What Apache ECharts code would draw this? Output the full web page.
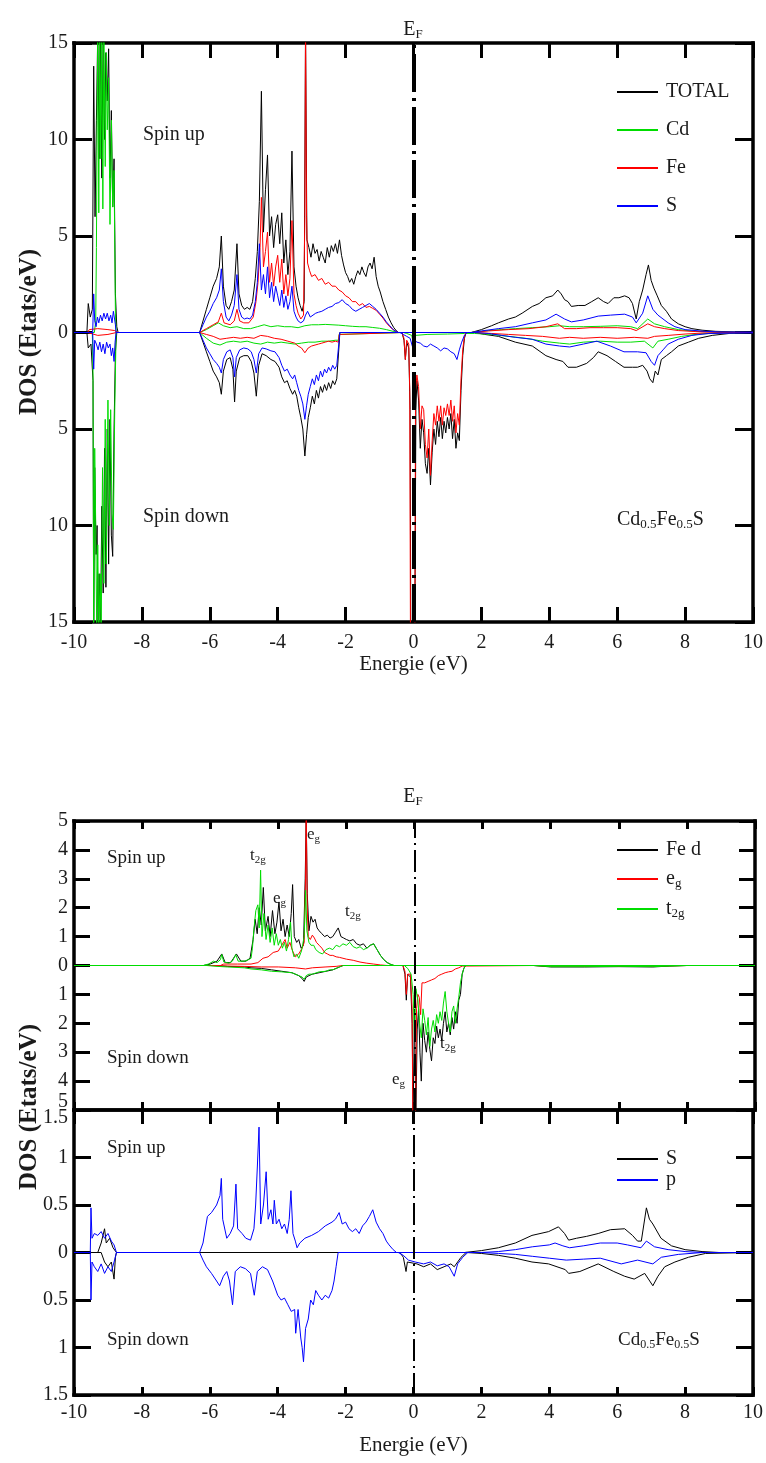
<!DOCTYPE html>
<html>
<head>
<meta charset="utf-8">
<title>DOS Cd0.5Fe0.5S</title>
<script src="https://cdn.jsdelivr.net/npm/echarts@6/dist/echarts.min.js"></script>
<style>
html,body{margin:0;padding:0;background:#fff;}
#chart{width:766px;height:1463px;}
</style>
</head>
<body>
<div id="chart"></div>
<script>
// ---------- data: energy (eV) vs DOS (states/eV); spin down stored as negative ----------
const fermiLevel = 0;
const energyTicks = [-10, 10, 2];          // min, max, step of the energy axis
const dosRangeTotal = [-15, 15, 5];
const dosRangeFe = [-5, 5, 1];
const dosRangeS = [-1.5, 1.5, 0.5];

// Panel 1: total and atom-projected DOS
const totalUp = [[-10,0],[-9.62,0],[-9.58,1.5],[-9.52,0.8],[-9.46,1.2],[-9.42,13.8],[-9.38,6],[-9.34,11],[-9.3,15.6],[-9.26,9],[-9.22,15.6],[-9.18,8],[-9.14,15.6],[-9.1,10],[-9.06,14.5],[-9.02,12],[-8.98,14.7],[-8.94,8],[-8.9,11.5],[-8.86,6.5],[-8.82,9],[-8.78,2],[-8.74,0.3],[-8.7,0],
[-6.3,0],[-6.2,0.6],[-6.1,1.2],[-6.0,1.8],[-5.9,2.4],[-5.8,2.8],[-5.72,3.4],[-5.66,5.0],[-5.6,2.4],[-5.52,1.4],[-5.44,1.2],[-5.36,1.6],[-5.28,2.2],[-5.2,4.6],[-5.14,2.0],[-5.06,1.4],[-4.98,1.2],[-4.9,1.3],[-4.82,1.2],[-4.74,1.6],[-4.66,2.8],[-4.6,4.2],[-4.54,6.8],[-4.48,12.5],[-4.42,5.2],[-4.36,7.4],[-4.3,9.2],[-4.24,5.0],[-4.18,6.0],[-4.12,4.4],[-4.06,5.6],[-4.0,6.1],[-3.94,4.6],[-3.88,6.2],[-3.82,3.6],[-3.76,4.8],[-3.7,3.0],[-3.64,4.2],[-3.58,9.4],[-3.52,3.4],[-3.46,2.4],[-3.4,1.8],[-3.34,1.4],[-3.28,1.1],[-3.22,1.6],[-3.18,15.6],[-3.14,4.8],[-3.08,4.4],[-3.02,3.9],[-2.96,4.6],[-2.9,4.1],[-2.84,4.3],[-2.78,3.7],[-2.72,4.2],[-2.66,3.9],[-2.6,3.6],[-2.54,4.4],[-2.48,3.9],[-2.42,4.5],[-2.36,4.2],[-2.3,4.6],[-2.24,4.1],[-2.18,4.8],[-2.12,4.0],[-2.06,3.5],[-2.0,3.1],[-1.94,2.9],[-1.88,2.6],[-1.82,2.8],[-1.76,2.5],[-1.7,2.9],[-1.64,3.2],[-1.58,3.0],[-1.52,3.4],[-1.46,3.1],[-1.4,2.9],[-1.34,3.4],[-1.28,3.6],[-1.22,3.3],[-1.16,3.9],[-1.1,2.9],[-1.04,2.4],[-0.98,2.1],[-0.9,1.6],[-0.82,1.2],[-0.74,0.8],[-0.66,0.5],[-0.58,0.25],[-0.5,0.08],[-0.44,0],
[1.7,0],[2.0,0.15],[2.3,0.35],[2.5,0.5],[2.8,0.7],[3.0,0.8],[3.2,1.0],[3.5,1.35],[3.7,1.5],[3.9,1.8],[4.1,1.9],[4.25,2.2],[4.35,2.0],[4.45,1.7],[4.55,1.6],[4.65,1.35],[4.85,1.4],[5.05,1.4],[5.25,1.6],[5.44,1.8],[5.6,1.6],[5.73,1.5],[5.9,1.8],[6.05,1.8],[6.22,1.9],[6.35,1.8],[6.45,1.5],[6.56,0.7],[6.65,1.6],[6.75,2.2],[6.85,3.0],[6.92,3.5],[7.0,2.7],[7.08,2.3],[7.18,1.9],[7.3,1.4],[7.45,1.1],[7.6,0.7],[7.8,0.45],[8.0,0.3],[8.2,0.2],[8.5,0.12],[8.9,0.06],[9.5,0.03],[10,0.02]];
const totalDown = [[-10,0],[-9.62,0],[-9.58,-0.8],[-9.5,-0.6],[-9.44,-2.5],[-9.42,-15.6],[-9.39,-7],[-9.35,-11.5],[-9.32,-10],[-9.29,-15.6],[-9.26,-12.5],[-9.22,-15.6],[-9.18,-9],[-9.14,-13.5],[-9.1,-6],[-9.06,-13.2],[-9.02,-5],[-8.98,-12],[-8.94,-4.5],[-8.9,-10.5],[-8.86,-11.6],[-8.82,-5],[-8.78,-1],[-8.74,0],
[-6.3,0],[-6.2,-0.5],[-6.1,-1.0],[-6.0,-1.5],[-5.9,-2.0],[-5.8,-2.3],[-5.72,-2.6],[-5.66,-3.2],[-5.6,-2.0],[-5.5,-1.4],[-5.4,-1.3],[-5.32,-1.9],[-5.27,-3.6],[-5.22,-2.0],[-5.12,-1.3],[-5.0,-1.2],[-4.88,-1.2],[-4.78,-1.5],[-4.7,-2.1],[-4.63,-3.3],[-4.56,-1.7],[-4.46,-1.1],[-4.34,-1.2],[-4.2,-1.4],[-4.08,-1.5],[-3.96,-1.8],[-3.88,-2.3],[-3.8,-2.6],[-3.72,-2.5],[-3.64,-2.9],[-3.56,-3.2],[-3.5,-3.0],[-3.44,-3.3],[-3.38,-3.9],[-3.32,-4.4],[-3.26,-5.0],[-3.2,-6.4],[-3.15,-5.3],[-3.1,-4.4],[-3.04,-3.9],[-2.98,-3.3],[-2.92,-3.7],[-2.86,-3.0],[-2.8,-3.4],[-2.74,-2.8],[-2.68,-3.1],[-2.62,-2.7],[-2.56,-3.0],[-2.5,-2.6],[-2.44,-2.9],[-2.38,-2.5],[-2.32,-2.7],[-2.26,-2.4],[-2.21,-2.5],[-2.19,-0.6],[-2.17,0],
[-0.34,0],[-0.28,-0.4],[-0.24,-1.4],[-0.2,-0.5],[-0.14,-0.8],[-0.1,-4],[-0.08,-15.6],[0.04,-15.6],[0.07,-4],[0.1,-2.5],[0.15,-3.5],[0.2,-6.0],[0.25,-4.5],[0.3,-5.2],[0.35,-6.8],[0.4,-7.3],[0.45,-6.0],[0.5,-7.9],[0.55,-6.2],[0.6,-5.0],[0.65,-5.8],[0.7,-4.6],[0.75,-5.4],[0.8,-4.4],[0.85,-5.5],[0.9,-4.6],[0.95,-5.2],[1.0,-4.4],[1.05,-5.0],[1.1,-4.2],[1.15,-5.5],[1.2,-4.5],[1.25,-6.0],[1.3,-5.2],[1.35,-5.6],[1.4,-3.0],[1.45,-1.2],[1.5,-0.3],[1.55,0],
[1.8,0],[2.1,-0.1],[2.5,-0.2],[3.0,-0.5],[3.5,-0.7],[3.9,-1.2],[4.2,-1.4],[4.4,-1.5],[4.55,-1.8],[4.8,-1.8],[5.1,-1.6],[5.3,-1.3],[5.44,-1.0],[5.7,-1.2],[5.95,-1.5],[6.2,-1.8],[6.45,-1.8],[6.6,-1.8],[6.75,-1.7],[6.88,-2.0],[6.96,-2.4],[7.05,-2.6],[7.12,-2.0],[7.2,-2.2],[7.3,-1.4],[7.45,-1.2],[7.6,-1.0],[7.8,-0.7],[8.1,-0.5],[8.4,-0.3],[8.8,-0.15],[9.3,-0.05],[10,-0.02]];

const cdUp = [[-10,0],[-9.4,0],[-9.36,0.6],[-9.34,4.4],[-9.32,10.6],[-9.3,15.6],[-9.27,6.2],[-9.24,15.6],[-9.21,9],[-9.18,15.6],[-9.15,6.4],[-9.12,15.6],[-9.08,8.6],[-9.05,14.5],[-9.02,10.5],[-8.98,13.2],[-8.94,5.6],[-8.9,11.0],[-8.86,6.5],[-8.82,8.4],[-8.78,1.0],[-8.76,0],
[-6.3,0],[-6.1,0.15],[-5.9,0.35],[-5.75,0.5],[-5.6,0.35],[-5.4,0.25],[-5.2,0.3],[-5.0,0.2],[-4.8,0.2],[-4.6,0.3],[-4.4,0.4],[-4.2,0.3],[-4.0,0.35],[-3.8,0.3],[-3.6,0.3],[-3.4,0.25],[-3.2,0.35],[-3.0,0.4],[-2.8,0.4],[-2.6,0.42],[-2.4,0.4],[-2.2,0.38],[-2.0,0.35],[-1.8,0.32],[-1.6,0.3],[-1.4,0.3],[-1.2,0.26],[-1.0,0.22],[-0.8,0.15],[-0.6,0.06],[-0.44,0],
[1.7,0],[2.2,0.1],[2.6,0.15],[3.0,0.2],[3.5,0.25],[4.0,0.3],[4.3,0.35],[4.6,0.3],[5.0,0.3],[5.5,0.32],[6.0,0.35],[6.4,0.3],[6.6,0.2],[6.9,0.7],[7.1,0.45],[7.4,0.3],[7.8,0.15],[8.3,0.06],[9,0.02],[10,0]];
const cdDown = [[-10,0],[-9.46,0],[-9.44,-2],[-9.42,-15.6],[-9.39,-6],[-9.36,-10],[-9.33,-15.6],[-9.3,-11],[-9.27,-15.6],[-9.23,-12.5],[-9.2,-15.6],[-9.16,-7],[-9.12,-13],[-9.08,-4.5],[-9.05,-12],[-9.0,-3.5],[-8.96,-10],[-8.92,-4],[-8.88,-9.4],[-8.84,-10.2],[-8.8,-4],[-8.76,0],
[-6.3,0],[-6.1,-0.3],[-5.9,-0.55],[-5.7,-0.65],[-5.5,-0.5],[-5.3,-0.45],[-5.1,-0.5],[-4.9,-0.45],[-4.7,-0.55],[-4.5,-0.6],[-4.3,-0.5],[-4.1,-0.55],[-3.9,-0.5],[-3.7,-0.55],[-3.5,-0.6],[-3.3,-0.55],[-3.1,-0.5],[-2.9,-0.5],[-2.7,-0.45],[-2.5,-0.45],[-2.3,-0.4],[-2.21,-0.4],[-2.19,-0.1],[-2.17,0],
[-0.3,0],[-0.2,-0.05],[-0.05,-0.15],[0.0,-0.6],[0.05,-0.15],[0.4,-0.1],[1.0,-0.08],[1.5,-0.05],[1.8,-0.05],[2.3,-0.1],[2.8,-0.2],[3.3,-0.3],[3.8,-0.45],[4.3,-0.55],[4.6,-0.6],[5.0,-0.5],[5.5,-0.45],[6.0,-0.5],[6.4,-0.5],[6.8,-0.45],[7.05,-0.8],[7.2,-0.45],[7.5,-0.35],[7.9,-0.2],[8.4,-0.08],[9,-0.03],[10,0]];

const feUp = [[-10,0],[-9.6,0],[-9.55,0.15],[-9.3,0.2],[-9.0,0.15],[-8.8,0.1],[-8.7,0],
[-6.3,0],[-6.1,0.2],[-5.9,0.4],[-5.75,0.55],[-5.66,1.0],[-5.58,0.5],[-5.4,0.4],[-5.28,0.6],[-5.2,1.2],[-5.12,0.6],[-5.0,0.5],[-4.85,0.5],[-4.72,0.8],[-4.64,1.6],[-4.58,2.6],[-4.52,4.4],[-4.48,7.0],[-4.42,3.4],[-4.36,4.2],[-4.3,5.2],[-4.24,2.6],[-4.18,3.6],[-4.12,2.4],[-4.06,3.4],[-4.0,4.0],[-3.94,2.6],[-3.88,3.8],[-3.82,2.0],[-3.76,3.0],[-3.7,1.9],[-3.64,2.8],[-3.58,5.8],[-3.52,2.0],[-3.46,1.4],[-3.4,1.0],[-3.32,0.7],[-3.24,0.9],[-3.2,6],[-3.18,16],[-3.15,6],[-3.12,3.6],[-3.06,3.2],[-3.0,2.9],[-2.9,3.0],[-2.8,2.7],[-2.7,2.8],[-2.6,2.5],[-2.5,2.6],[-2.4,2.4],[-2.3,2.4],[-2.2,2.2],[-2.1,2.1],[-2.0,1.9],[-1.9,1.8],[-1.8,1.6],[-1.7,1.6],[-1.6,1.4],[-1.5,1.5],[-1.4,1.3],[-1.3,1.35],[-1.2,1.25],[-1.1,1.15],[-1.0,0.95],[-0.9,0.75],[-0.8,0.5],[-0.7,0.3],[-0.6,0.15],[-0.5,0.04],[-0.44,0],
[1.7,0],[2.2,0.08],[2.8,0.15],[3.4,0.2],[3.9,0.3],[4.25,0.45],[4.45,0.2],[4.8,0.2],[5.2,0.25],[5.6,0.25],[6.0,0.25],[6.4,0.2],[6.56,0.1],[6.9,0.45],[7.1,0.3],[7.4,0.2],[7.8,0.1],[8.3,0.05],[9,0.02],[10,0]];
const feDown = [[-10,0],[-9.6,0],[-9.55,-0.1],[-9.3,-0.15],[-9.0,-0.1],[-8.75,0],
[-6.3,0],[-6.1,-0.1],[-5.9,-0.2],[-5.7,-0.35],[-5.5,-0.3],[-5.3,-0.25],[-5.1,-0.3],[-4.9,-0.25],[-4.7,-0.3],[-4.5,-0.15],[-4.3,-0.2],[-4.1,-0.3],[-3.9,-0.35],[-3.7,-0.45],[-3.5,-0.55],[-3.4,-0.7],[-3.3,-0.8],[-3.2,-1.05],[-3.1,-0.8],[-3.0,-0.7],[-2.9,-0.65],[-2.8,-0.6],[-2.7,-0.55],[-2.6,-0.5],[-2.5,-0.45],[-2.4,-0.5],[-2.3,-0.45],[-2.21,-0.5],[-2.19,-0.1],[-2.17,0],
[-0.34,0],[-0.28,-0.3],[-0.24,-1.4],[-0.2,-0.4],[-0.14,-0.6],[-0.11,-3],[-0.09,-15.6],[0.04,-15.6],[0.06,-3],[0.1,-2.2],[0.15,-2.8],[0.2,-5.0],[0.25,-3.8],[0.3,-4.0],[0.35,-5.8],[0.4,-6.5],[0.45,-5.0],[0.5,-7.4],[0.55,-5.6],[0.6,-4.2],[0.65,-4.8],[0.7,-3.8],[0.75,-4.6],[0.8,-3.8],[0.85,-4.8],[0.9,-3.9],[0.95,-4.3],[1.0,-3.7],[1.05,-4.3],[1.1,-3.5],[1.15,-4.6],[1.2,-3.8],[1.25,-5.2],[1.3,-4.2],[1.35,-4.8],[1.4,-2.4],[1.45,-0.9],[1.5,-0.2],[1.55,0],
[1.8,0],[2.3,-0.05],[2.8,-0.1],[3.3,-0.15],[3.8,-0.2],[4.3,-0.3],[4.6,-0.25],[5.0,-0.3],[5.5,-0.25],[6.0,-0.3],[6.5,-0.25],[6.9,-0.3],[7.1,-0.2],[7.5,-0.15],[8.0,-0.08],[8.5,-0.03],[10,0]];

const sUp = [[-10,0],[-9.45,0],[-9.42,2.0],[-9.39,0.6],[-9.35,0.3],[-9.31,0.8],[-9.27,0.5],[-9.22,0.9],[-9.17,0.6],[-9.12,1.0],[-9.07,0.7],[-9.02,1.0],[-8.97,0.6],[-8.92,0.9],[-8.88,0.5],[-8.84,1.1],[-8.8,1.0],[-8.78,0.4],[-8.76,0],
[-6.3,0],[-6.2,0.4],[-6.1,0.8],[-6.0,1.1],[-5.9,1.5],[-5.8,1.8],[-5.72,2.2],[-5.66,3.3],[-5.6,1.6],[-5.52,0.8],[-5.44,0.6],[-5.36,0.9],[-5.28,1.4],[-5.2,3.0],[-5.14,1.2],[-5.06,0.8],[-4.98,0.7],[-4.9,0.75],[-4.82,0.7],[-4.74,0.9],[-4.66,1.6],[-4.6,2.6],[-4.54,4.6],[-4.48,2.2],[-4.42,3.0],[-4.36,2.0],[-4.3,3.4],[-4.24,1.8],[-4.18,2.6],[-4.12,1.6],[-4.06,2.4],[-4.0,1.9],[-3.94,1.4],[-3.88,2.2],[-3.82,1.3],[-3.76,1.9],[-3.7,1.2],[-3.64,1.6],[-3.58,2.4],[-3.52,1.1],[-3.46,0.8],[-3.4,0.6],[-3.32,0.5],[-3.24,0.6],[-3.18,0.9],[-3.12,1.1],[-3.04,0.8],[-2.96,0.9],[-2.88,1.0],[-2.8,1.05],[-2.7,1.1],[-2.6,1.2],[-2.5,1.3],[-2.4,1.35],[-2.3,1.5],[-2.2,1.55],[-2.1,1.7],[-2.0,1.5],[-1.9,1.4],[-1.8,1.2],[-1.7,1.1],[-1.6,1.2],[-1.5,1.3],[-1.4,1.4],[-1.3,1.5],[-1.2,1.35],[-1.1,1.2],[-1.0,1.0],[-0.9,0.8],[-0.8,0.55],[-0.7,0.35],[-0.6,0.15],[-0.5,0.04],[-0.44,0],
[1.7,0],[2.0,0.08],[2.5,0.2],[3.0,0.3],[3.5,0.5],[3.9,0.65],[4.2,0.95],[4.45,0.7],[4.65,0.55],[5.0,0.65],[5.44,0.85],[5.8,0.9],[6.22,0.95],[6.45,0.8],[6.56,0.5],[6.75,1.0],[6.9,1.9],[7.05,1.2],[7.2,0.9],[7.5,0.5],[7.7,0.3],[8.0,0.15],[8.5,0.07],[9,0.03],[10,0.02]];
const sDown = [[-10,0],[-9.45,0],[-9.42,-1.9],[-9.39,-0.4],[-9.34,-0.6],[-9.29,-0.9],[-9.24,-0.5],[-9.19,-1.0],[-9.14,-0.6],[-9.09,-1.1],[-9.04,-0.5],[-8.99,-0.8],[-8.94,-0.6],[-8.9,-1.2],[-8.86,-0.8],[-8.82,-1.5],[-8.79,-0.5],[-8.76,0],
[-6.3,0],[-6.2,-0.4],[-6.1,-0.8],[-6.0,-1.1],[-5.9,-1.4],[-5.8,-1.6],[-5.72,-1.8],[-5.66,-2.1],[-5.6,-1.4],[-5.5,-1.0],[-5.4,-0.9],[-5.32,-1.3],[-5.27,-2.3],[-5.22,-1.3],[-5.12,-0.9],[-5.0,-0.8],[-4.88,-0.85],[-4.78,-1.0],[-4.7,-1.4],[-4.63,-2.1],[-4.56,-1.1],[-4.46,-0.8],[-4.34,-0.85],[-4.2,-0.95],[-4.08,-1.0],[-3.96,-1.3],[-3.88,-1.7],[-3.8,-2.0],[-3.72,-1.9],[-3.64,-2.2],[-3.56,-2.4],[-3.5,-2.2],[-3.44,-2.6],[-3.38,-3.0],[-3.32,-3.3],[-3.26,-3.7],[-3.2,-4.5],[-3.15,-3.8],[-3.1,-3.2],[-3.04,-2.8],[-2.98,-2.4],[-2.92,-2.7],[-2.86,-2.2],[-2.8,-2.5],[-2.74,-2.0],[-2.68,-2.3],[-2.62,-1.9],[-2.56,-2.1],[-2.5,-1.8],[-2.44,-2.0],[-2.38,-1.7],[-2.32,-1.9],[-2.26,-1.7],[-2.21,-1.8],[-2.19,-0.4],[-2.17,0],
[-0.4,0],[-0.3,-0.1],[-0.2,-0.2],[-0.1,-0.3],[-0.02,-0.8],[0.04,-0.4],[0.1,-0.5],[0.2,-0.55],[0.3,-0.7],[0.4,-0.75],[0.5,-0.6],[0.6,-0.7],[0.7,-0.8],[0.8,-0.95],[0.9,-0.8],[1.0,-0.85],[1.1,-1.0],[1.2,-1.1],[1.28,-1.4],[1.35,-0.9],[1.42,-0.5],[1.5,-0.15],[1.58,0],
[1.8,0],[2.2,-0.05],[2.6,-0.15],[3.0,-0.25],[3.5,-0.35],[3.9,-0.6],[4.3,-0.7],[4.6,-0.75],[5.0,-0.6],[5.4,-0.45],[5.8,-0.7],[6.2,-1.0],[6.6,-1.0],[6.85,-1.05],[7.0,-1.5],[7.1,-1.7],[7.2,-1.2],[7.35,-0.9],[7.5,-0.6],[7.8,-0.35],[8.2,-0.15],[8.7,-0.05],[10,-0.02]];

// Panel 2: Fe d and its crystal-field components
const feDUp = [[-10,0],[-6.2,0],[-6.0,0.05],[-5.8,0.15],[-5.66,0.4],[-5.56,0.1],[-5.4,0.1],[-5.23,0.4],[-5.1,0.15],[-4.95,0.15],[-4.83,0.25],[-4.74,0.9],[-4.68,1.6],[-4.62,1.1],[-4.56,2.0],[-4.5,1.4],[-4.44,2.7],[-4.38,1.2],[-4.3,1.7],[-4.24,1.0],[-4.17,1.9],[-4.1,1.1],[-4.04,1.5],[-3.98,2.2],[-3.92,1.2],[-3.86,1.6],[-3.8,1.0],[-3.74,1.4],[-3.68,1.0],[-3.62,1.8],[-3.58,2.8],[-3.53,1.0],[-3.46,0.8],[-3.4,0.9],[-3.33,0.6],[-3.26,0.7],[-3.21,3.0],[-3.18,5.2],[-3.15,2.5],[-3.1,1.2],[-3.04,1.7],[-2.98,1.5],[-2.92,1.6],[-2.86,1.3],[-2.8,1.2],[-2.72,1.1],[-2.64,1.0],[-2.56,1.05],[-2.48,0.95],[-2.4,1.0],[-2.32,1.15],[-2.24,1.3],[-2.16,1.0],[-2.08,0.95],[-2.0,0.9],[-1.9,0.85],[-1.8,0.9],[-1.7,0.75],[-1.6,0.7],[-1.5,0.75],[-1.4,0.6],[-1.3,0.7],[-1.2,0.75],[-1.1,0.55],[-1.0,0.35],[-0.9,0.2],[-0.8,0.1],[-0.7,0.04],[-0.6,0],[10,0]];
const feDDown = [[-10,0],[-5.8,0],[-5.5,-0.03],[-5.0,-0.05],[-4.8,-0.08],[-4.5,-0.1],[-4.2,-0.15],[-3.9,-0.2],[-3.6,-0.25],[-3.4,-0.35],[-3.3,-0.45],[-3.24,-0.55],[-3.18,-0.4],[-3.1,-0.35],[-3.0,-0.3],[-2.8,-0.25],[-2.6,-0.2],[-2.4,-0.15],[-2.3,-0.1],[-2.2,-0.05],[-2.1,0],
[-0.34,0],[-0.28,-0.3],[-0.24,-1.2],[-0.2,-0.3],[-0.12,-0.4],[-0.07,-2.0],[-0.04,-5.2],[0.0,-1.5],[0.04,-5.2],[0.08,-2.2],[0.12,-1.5],[0.16,-3.0],[0.2,-4.0],[0.25,-2.0],[0.3,-2.6],[0.35,-3.0],[0.4,-2.3],[0.45,-2.9],[0.5,-3.3],[0.55,-2.5],[0.6,-2.7],[0.65,-2.1],[0.7,-2.5],[0.75,-2.2],[0.8,-2.6],[0.85,-2.0],[0.9,-1.6],[0.95,-2.3],[1.0,-2.0],[1.05,-2.4],[1.1,-1.8],[1.15,-2.2],[1.2,-1.6],[1.25,-2.0],[1.3,-1.2],[1.35,-1.0],[1.4,-0.3],[1.45,-0.1],[1.5,0],
[3.5,0],[4.0,-0.05],[5.0,-0.05],[6.0,-0.04],[7.0,-0.05],[7.5,-0.02],[8,0],[10,0]];
const egUp = [[-10,0],[-5.7,0],[-5.6,0.05],[-5.2,0.05],[-4.8,0.05],[-4.6,0.1],[-4.45,0.25],[-4.3,0.3],[-4.15,0.45],[-4.0,0.5],[-3.9,0.7],[-3.8,0.9],[-3.74,0.6],[-3.66,0.8],[-3.58,0.5],[-3.5,0.3],[-3.4,0.4],[-3.3,0.6],[-3.24,0.8],[-3.2,3],[-3.18,5.3],[-3.15,2],[-3.12,1.0],[-3.06,0.9],[-3.0,1.05],[-2.94,0.95],[-2.88,0.8],[-2.8,0.7],[-2.72,0.6],[-2.64,0.45],[-2.56,0.4],[-2.48,0.35],[-2.4,0.35],[-2.3,0.3],[-2.2,0.28],[-2.1,0.25],[-2.0,0.22],[-1.8,0.18],[-1.6,0.12],[-1.4,0.08],[-1.2,0.05],[-1.0,0.02],[-0.8,0],[10,0]];
const egDown = [[-10,0],[-6,0],[-5.5,-0.02],[-5.0,-0.03],[-4.5,-0.05],[-4.0,-0.05],[-3.5,-0.08],[-3.2,-0.12],[-3.0,-0.08],[-2.6,-0.05],[-2.3,-0.03],[-2.1,0],
[-0.34,0],[-0.28,-0.2],[-0.24,-1.0],[-0.2,-0.3],[-0.12,-0.3],[-0.07,-1.5],[-0.05,-5.2],[0.03,-5.2],[0.06,-1.5],[0.1,-1.0],[0.14,-1.1],[0.18,-1.7],[0.22,-0.6],[0.3,-0.6],[0.4,-0.55],[0.5,-0.5],[0.6,-0.45],[0.7,-0.35],[0.8,-0.3],[0.9,-0.25],[1.0,-0.22],[1.1,-0.2],[1.2,-0.12],[1.3,-0.08],[1.4,-0.02],[1.45,0],
[3.5,0],[4.0,-0.02],[5.5,-0.02],[7.0,-0.02],[8,0],[10,0]];
const t2gUp = [[-10,0],[-6.2,0],[-6.05,0.05],[-5.9,0.15],[-5.8,0.1],[-5.7,0.2],[-5.66,0.38],[-5.6,0.12],[-5.45,0.08],[-5.35,0.15],[-5.25,0.38],[-5.18,0.15],[-5.0,0.15],[-4.88,0.2],[-4.8,0.25],[-4.76,0.6],[-4.72,1.2],[-4.66,1.9],[-4.6,2.1],[-4.56,1.3],[-4.52,3.3],[-4.48,1.0],[-4.42,1.8],[-4.36,0.9],[-4.3,1.4],[-4.24,0.8],[-4.18,1.3],[-4.12,0.7],[-4.06,1.1],[-4.0,0.7],[-3.94,0.9],[-3.88,0.6],[-3.82,0.8],[-3.76,0.5],[-3.7,0.9],[-3.64,1.5],[-3.6,0.6],[-3.54,0.3],[-3.46,0.4],[-3.4,0.25],[-3.32,0.5],[-3.24,1.0],[-3.2,2.6],[-3.16,1.2],[-3.1,0.8],[-3.04,0.7],[-2.96,0.7],[-2.9,0.55],[-2.8,0.45],[-2.7,0.4],[-2.6,0.55],[-2.5,0.6],[-2.4,0.55],[-2.3,0.7],[-2.2,0.65],[-2.1,0.75],[-2.0,0.7],[-1.9,0.8],[-1.8,0.65],[-1.7,0.6],[-1.6,0.65],[-1.5,0.55],[-1.4,0.6],[-1.3,0.7],[-1.2,0.75],[-1.1,0.55],[-1.0,0.35],[-0.9,0.2],[-0.8,0.1],[-0.7,0.04],[-0.6,0],[10,0]];
const t2gDown = [[-10,0],[-6.1,0],[-5.8,-0.03],[-5.5,-0.05],[-5.0,-0.08],[-4.8,-0.12],[-4.5,-0.15],[-4.2,-0.2],[-3.9,-0.22],[-3.6,-0.25],[-3.4,-0.35],[-3.3,-0.4],[-3.24,-0.48],[-3.18,-0.35],[-3.1,-0.3],[-3.0,-0.3],[-2.8,-0.22],[-2.6,-0.2],[-2.5,-0.15],[-2.4,-0.15],[-2.3,-0.1],[-2.2,-0.05],[-2.1,0],
[-0.3,0],[-0.2,-0.1],[-0.1,-0.3],[-0.04,-1.0],[0.0,-2.6],[0.04,-0.8],[0.1,-1.2],[0.15,-2.0],[0.2,-2.5],[0.25,-1.5],[0.3,-1.9],[0.35,-2.4],[0.4,-1.8],[0.45,-2.8],[0.5,-2.2],[0.55,-1.9],[0.6,-2.3],[0.65,-1.7],[0.7,-2.0],[0.75,-1.6],[0.8,-1.9],[0.85,-1.3],[0.9,-0.9],[0.95,-1.6],[1.0,-2.0],[1.05,-2.3],[1.1,-1.6],[1.15,-1.4],[1.2,-2.0],[1.25,-1.5],[1.3,-1.1],[1.35,-0.6],[1.4,-0.3],[1.45,-0.1],[1.5,0],
[3.5,0],[4.0,-0.04],[5.0,-0.04],[6.0,-0.03],[7.0,-0.04],[7.5,-0.02],[8,0],[10,0]];

// Panel 3: S s and p orbitals
const sOrbUp = [[-10,0],[-9.3,0],[-9.2,0.1],[-9.1,0.25],[-9.05,0.1],[-8.95,0.15],[-8.85,0.05],[-8.75,0],
[1.5,0],[2.0,0.02],[2.5,0.05],[3.0,0.1],[3.49,0.18],[3.98,0.22],[4.27,0.27],[4.45,0.2],[4.57,0.13],[4.8,0.15],[5.1,0.17],[5.44,0.2],[5.8,0.24],[6.22,0.25],[6.45,0.18],[6.6,0.12],[6.71,0.12],[6.86,0.47],[6.95,0.35],[7.05,0.3],[7.29,0.15],[7.6,0.07],[8.0,0.03],[8.5,0.01],[9,0],[10,0]];
const sOrbDown = [[-10,0],[-9.2,0],[-9.1,-0.1],[-9.0,-0.15],[-8.9,-0.1],[-8.82,-0.28],[-8.78,-0.05],[-8.75,0],
[-0.4,0],[-0.3,-0.05],[-0.22,-0.2],[-0.18,-0.1],[0.1,-0.12],[0.3,-0.15],[0.5,-0.12],[0.7,-0.18],[0.9,-0.15],[1.1,-0.12],[1.2,-0.15],[1.4,-0.05],[1.55,0],
[2.0,-0.01],[2.5,-0.03],[3.0,-0.06],[3.49,-0.1],[3.98,-0.12],[4.47,-0.18],[4.57,-0.22],[4.9,-0.2],[5.44,-0.12],[5.9,-0.2],[6.22,-0.25],[6.5,-0.28],[6.81,-0.22],[7.05,-0.35],[7.2,-0.25],[7.4,-0.15],[7.7,-0.1],[8.1,-0.05],[8.6,-0.01],[10,0]];
const pOrbUp = [[-10,0],[-9.52,0],[-9.5,0.47],[-9.47,0.15],[-9.4,0.2],[-9.3,0.18],[-9.2,0.22],[-9.1,0.15],[-9.0,0.2],[-8.9,0.12],[-8.82,0.08],[-8.75,0],
[-6.3,0],[-6.2,0.1],[-6.07,0.38],[-5.95,0.42],[-5.8,0.5],[-5.7,0.6],[-5.66,0.78],[-5.62,0.35],[-5.5,0.15],[-5.4,0.2],[-5.3,0.28],[-5.23,0.72],[-5.18,0.25],[-5.05,0.2],[-4.94,0.15],[-4.8,0.13],[-4.7,0.25],[-4.65,0.5],[-4.6,0.9],[-4.55,1.32],[-4.5,0.3],[-4.42,0.5],[-4.34,0.85],[-4.28,0.35],[-4.2,0.45],[-4.14,0.3],[-4.1,0.55],[-4.04,0.3],[-3.96,0.35],[-3.88,0.25],[-3.8,0.3],[-3.72,0.2],[-3.66,0.35],[-3.61,0.65],[-3.55,0.2],[-3.48,0.12],[-3.43,0.05],[-3.35,0.1],[-3.2,0.15],[-3.0,0.18],[-2.8,0.22],[-2.6,0.28],[-2.4,0.32],[-2.3,0.35],[-2.19,0.42],[-2.1,0.3],[-2.0,0.32],[-1.9,0.25],[-1.8,0.22],[-1.7,0.25],[-1.6,0.2],[-1.5,0.28],[-1.4,0.32],[-1.3,0.38],[-1.2,0.45],[-1.1,0.32],[-1.0,0.25],[-0.9,0.2],[-0.8,0.12],[-0.72,0.08],[-0.6,0.03],[-0.5,0],
[2.0,0],[2.5,0.01],[3.0,0.03],[3.5,0.06],[4.0,0.08],[4.17,0.1],[4.4,0.07],[4.6,0.05],[5.0,0.07],[5.5,0.1],[6.0,0.1],[6.3,0.08],[6.7,0.05],[6.86,0.12],[7.1,0.06],[7.5,0.03],[8.0,0.01],[8.5,0],[10,0]];
const pOrbDown = [[-10,0],[-9.52,0],[-9.5,-0.5],[-9.47,-0.1],[-9.4,-0.15],[-9.3,-0.2],[-9.2,-0.12],[-9.1,-0.22],[-9.0,-0.15],[-8.9,-0.2],[-8.82,-0.1],[-8.75,0],
[-6.3,0],[-6.2,-0.08],[-6.1,-0.15],[-5.95,-0.22],[-5.8,-0.3],[-5.71,-0.35],[-5.6,-0.25],[-5.5,-0.2],[-5.42,-0.3],[-5.33,-0.55],[-5.25,-0.2],[-5.1,-0.15],[-4.95,-0.17],[-4.8,-0.22],[-4.69,-0.45],[-4.6,-0.2],[-4.45,-0.15],[-4.3,-0.18],[-4.15,-0.3],[-4.0,-0.45],[-3.9,-0.5],[-3.8,-0.48],[-3.7,-0.55],[-3.6,-0.62],[-3.5,-0.6],[-3.47,-0.85],[-3.4,-0.6],[-3.32,-0.9],[-3.28,-1.0],[-3.24,-1.15],[-3.18,-0.8],[-3.1,-0.7],[-3.03,-0.5],[-2.95,-0.55],[-2.88,-0.4],[-2.8,-0.45],[-2.7,-0.5],[-2.6,-0.45],[-2.5,-0.48],[-2.4,-0.4],[-2.34,-0.3],[-2.28,-0.15],[-2.22,0],
[-0.45,0],[-0.3,-0.03],[-0.15,-0.08],[0.05,-0.1],[0.3,-0.12],[0.5,-0.1],[0.7,-0.14],[0.9,-0.12],[1.05,-0.15],[1.2,-0.25],[1.3,-0.12],[1.45,-0.05],[1.6,0],
[2.0,0],[2.5,-0.01],[3.0,-0.02],[3.5,-0.04],[4.0,-0.06],[4.5,-0.08],[5.0,-0.07],[5.5,-0.06],[6.12,-0.12],[6.6,-0.08],[7.05,-0.12],[7.3,-0.05],[7.8,-0.02],[8.5,0],[10,0]];

// Legend entries (series name -> displayed text)
const legendTop = ['TOTAL', 'Cd', 'Fe', 'S'];
const legendFe = ['Fe d', 'eg', 't2g'];
const legendS = ['S s', 'S p'];
const legendText = {'TOTAL':'TOTAL','Cd':'Cd','Fe':'Fe','S':'S','Fe d':'Fe d','eg':'e{sub|g}','t2g':'t{sub|2g}','S s':'S','S p':'p'};

// ---------- styling ----------
const SERIF = '"Liberation Serif", "Times New Roman", serif';
const INK = '#1b1b1b';
const C = {black:'#000000', green:'#00dd00', red:'#ff0000', blue:'#0000ff'};

const grids = [
  {left:74, top:43, width:681, height:579},
  {left:74, top:821, width:681, height:289},
  {left:74, top:1110, width:681, height:285}
];

function axisLineStyle(){ return {show:true, onZero:false, lineStyle:{color:'#000', width:3.5, cap:'square'}}; }

function xPair(g, showLabels, tickBottom, tickTop, labelMargin, nameGap){
  const base = {
    type:'value', gridIndex:g, min:energyTicks[0], max:energyTicks[1], interval:energyTicks[2],
    axisLine:axisLineStyle(), splitLine:{show:false}
  };
  const bottom = Object.assign({}, base, {
    position:'bottom',
    axisTick:{show:true, inside:true, length:tickBottom, lineStyle:{color:'#000', width:3}},
    axisLabel:{show:showLabels, margin:labelMargin, fontSize:20, fontFamily:SERIF, color:INK, showMinLabel:true, showMaxLabel:true}
  });
  if (showLabels) {
    bottom.name = 'Energie (eV)';
    bottom.nameLocation = 'middle';
    bottom.nameGap = nameGap;
    bottom.nameTextStyle = {fontSize:21, fontFamily:SERIF, color:INK};
  }
  const top = Object.assign({}, base, {
    position:'top',
    axisTick:{show:true, inside:true, length:tickTop, lineStyle:{color:'#000', width:3}},
    axisLabel:{show:false}
  });
  return [bottom, top];
}

function yPair(g, range, tickLen, extraLabel){
  const base = {
    type:'value', gridIndex:g, min:range[0], max:range[1], interval:range[2],
    axisLine:axisLineStyle(), splitLine:{show:false},
    axisTick:{show:true, inside:true, length:tickLen, lineStyle:{color:'#000', width:3}}
  };
  const left = Object.assign({}, base, {
    position:'left',
    axisLabel:Object.assign({show:true, margin:6, fontSize:20, fontFamily:SERIF, color:INK,
      showMinLabel:true, showMaxLabel:true,
      formatter: v => String(Math.abs(v))}, extraLabel || {})
  });
  const right = Object.assign({}, base, {position:'right', axisLabel:{show:false}});
  return [left, right];
}

function line(name, data, color, g, z){
  return {
    type:'line', name:name, data:data, xAxisIndex:2*g, yAxisIndex:2*g,
    showSymbol:false, symbol:'none', silent:true, animation:false, z:z || 2,
    lineStyle:{color:color, width:1}, itemStyle:{color:color}
  };
}

function fermiMark(width, pattern){
  return {
    symbol:'none', silent:true, animation:false, label:{show:false},
    lineStyle:{color:'#000', width:width, type:pattern},
    data:[{xAxis:fermiLevel}]
  };
}

const series = [
  line('TOTAL', totalUp, C.black, 0), line('TOTAL', totalDown, C.black, 0),
  line('Cd', cdUp, C.green, 0), line('Cd', cdDown, C.green, 0),
  line('Fe', feUp, C.red, 0), line('Fe', feDown, C.red, 0),
  line('S', sUp, C.blue, 0), line('S', sDown, C.blue, 0),

  line('Fe d', feDUp, C.black, 1), line('Fe d', feDDown, C.black, 1),
  line('eg', egUp, C.red, 1), line('eg', egDown, C.red, 1),
  line('t2g', t2gUp, C.green, 1), line('t2g', t2gDown, C.green, 1),

  line('S s', sOrbUp, C.black, 2), line('S s', sOrbDown, C.black, 2),
  line('S p', pOrbUp, C.blue, 2), line('S p', pOrbDown, C.blue, 2)
];
series[7].markLine = fermiMark(4, [38, 6, 3, 6]);
series[13].markLine = fermiMark(2, [22, 5, 2, 5]);
series[17].markLine = fermiMark(2, [22, 5, 2, 5]);

const subRich = {sub:{fontSize:13, fontFamily:SERIF, color:INK, padding:[9,0,0,0]}};

function legend(data, left, top, gap, lineH){
  return {
    data:data, left:left, top:top, orient:'vertical', padding:0,
    itemWidth:41, itemHeight:2, itemGap:gap, icon:'rect', selectedMode:false,
    formatter: n => legendText[n],
    textStyle:{fontSize:20, fontFamily:SERIF, color:INK, lineHeight:lineH, padding:[0,0,0,3], rich:subRich}
  };
}

function txt(text, x, y, size, align){
  const s = size || 20;
  return {
    type:'text', x:x, y:y, silent:true,
    style:{text:text, fill:INK, font:s + 'px ' + SERIF, textAlign:align || 'left', textVerticalAlign:'middle',
      rich:{sub:{fontSize:Math.round(s*0.64), fontFamily:SERIF, fill:INK, padding:[Math.round(s*0.45),0,0,0]}}}
  };
}

const graphic = [
  // Fermi level labels
  txt('E{sub|F}', 413, 30, 20, 'center'),
  txt('E{sub|F}', 413, 797, 20, 'center'),
  // y-axis titles
  {type:'text', x:30, y:332, rotation:Math.PI/2, silent:true,
   style:{text:'DOS (Etats/eV)', fill:INK, font:'bold 25px ' + SERIF, textAlign:'center', textVerticalAlign:'middle'}},
  {type:'text', x:30, y:1107, rotation:Math.PI/2, silent:true,
   style:{text:'DOS (Etats/eV)', fill:INK, font:'bold 25px ' + SERIF, textAlign:'center', textVerticalAlign:'middle'}},
  // spin channel captions
  txt('Spin up', 143, 135, 20), txt('Spin down', 143, 517, 20),
  txt('Cd{sub|0.5}Fe{sub|0.5}S', 617, 520, 20),
  txt('Spin up', 107, 858, 19), txt('Spin down', 107, 1058, 19),
  txt('Spin up', 107, 1148, 19), txt('Spin down', 107, 1340, 19),
  txt('Cd{sub|0.5}Fe{sub|0.5}S', 618, 1340, 19),
  // orbital labels on the Fe d panel
  txt('t{sub|2g}', 250, 856, 17), txt('e{sub|g}', 273, 899, 17), txt('e{sub|g}', 307, 835, 17),
  txt('t{sub|2g}', 345, 912, 17), txt('e{sub|g}', 392, 1080, 17), txt('t{sub|2g}', 440, 1044, 17)
];

const option = {
  backgroundColor:'#ffffff',
  animation:false,
  grid:grids,
  xAxis:[].concat(
    xPair(0, true, 15, 15, 11, 30),
    xPair(1, false, 8, 8, 8, 0),
    xPair(2, true, 8, 14, 8, 40)
  ),
  yAxis:[].concat(
    yPair(0, dosRangeTotal, 18),
    yPair(1, dosRangeFe, 16, {lineHeight:16, verticalAlignMinLabel:'bottom'}),
    yPair(2, dosRangeS, 17, {lineHeight:16, verticalAlignMaxLabel:'top'})
  ),
  legend:[
    legend(legendTop, 617, 82, 18, 20),
    legend(legendFe, 617, 840, 9, 20),
    legend(legendS, 617, 1149, 1, 16)
  ],
  graphic:graphic,
  series:series
};

const chart = echarts.init(document.getElementById('chart'), null, {renderer:'canvas'});
chart.setOption(option);
</script>
</body>
</html>
